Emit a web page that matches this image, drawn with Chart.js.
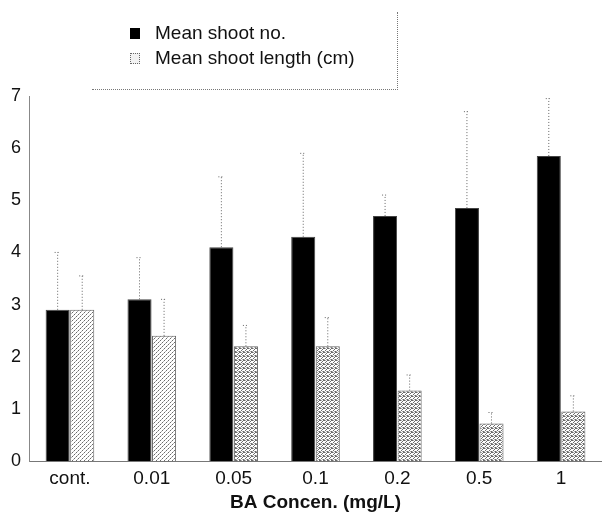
<!DOCTYPE html>
<html>
<head>
<meta charset="utf-8">
<script src="https://cdn.jsdelivr.net/npm/chart.js@4/dist/chart.umd.min.js"></script>
<style>
  body { margin: 0; background: #fff; }
  #wrap { position: relative; width: 602px; height: 516px; }
  #legend {
    position: absolute; left: 92px; top: 12px; width: 305px; height: 77px;
    border-right: 1px dotted #777; border-bottom: 1px dotted #777;
    font-family: "Liberation Sans", Arial, sans-serif; font-size: 19px; color: #111;
  }
  #legend .item { position: absolute; left: 38px; display: flex; align-items: center; line-height: 22px; }
  #legend .sw { width: 10px; height: 11px; margin-right: 15px; box-sizing: border-box; }
</style>
</head>
<body>
<div id="wrap">
  <canvas id="myChart"></canvas>
  <div id="legend"></div>
</div>
<script>
// data
const categories = ["cont.", "0.01", "0.05", "0.1", "0.2", "0.5", "1"];
const shootNo = [2.9, 3.1, 4.1, 4.3, 4.7, 4.85, 5.85];
const shootNoErr = [1.1, 0.8, 1.35, 1.6, 0.4, 1.85, 1.1];
const shootLength = [2.9, 2.4, 2.2, 2.2, 1.35, 0.72, 0.95];
const shootLengthErr = [0.65, 0.7, 0.4, 0.55, 0.3, 0.21, 0.3];
const yTicks = [0, 1, 2, 3, 4, 5, 6, 7];

const font = "'Liberation Sans', Arial, sans-serif";

// stippled fills for the second series
function makePattern(dark, light) {
  const c = document.createElement("canvas");
  c.width = 4; c.height = 4;
  const g = c.getContext("2d");
  g.fillStyle = "#fff";
  g.fillRect(0, 0, 4, 4);
  g.fillStyle = "#6a6a6a";
  dark.forEach(([x, y]) => g.fillRect(x, y, 1, 1));
  g.fillStyle = "#b0b0b0";
  light.forEach(([x, y]) => g.fillRect(x, y, 1, 1));
  return g.createPattern(c, "repeat");
}
const stipple = makePattern([[0, 0], [2, 1], [1, 2], [3, 3], [3, 0]], [[1, 0], [0, 3], [2, 3]]);
const stippleLight = makePattern([[0, 0], [2, 2]], [[1, 3], [3, 1]]);

// error bars drawn from the y scale
const errorBars = {
  id: "errorBars",
  afterDatasetsDraw(chart) {
    const ctx = chart.ctx;
    const y = chart.scales.y;
    ctx.save();
    ctx.strokeStyle = "#666";
    ctx.lineWidth = 1;
    ctx.setLineDash([1, 2]);
    chart.data.datasets.forEach((ds, i) => {
      const meta = chart.getDatasetMeta(i);
      meta.data.forEach((bar, j) => {
        const top = y.getPixelForValue(ds.data[j] + ds.errors[j]);
        const base = y.getPixelForValue(ds.data[j]);
        ctx.beginPath();
        ctx.moveTo(bar.x, base);
        ctx.lineTo(bar.x, top);
        ctx.moveTo(bar.x - 3, top);
        ctx.lineTo(bar.x + 3, top);
        ctx.stroke();
      });
    });
    ctx.restore();
  },
};

const chart = new Chart("myChart", {
  type: "bar",
  data: {
    labels: categories,
    datasets: [
      {
        label: "Mean shoot no.",
        data: shootNo,
        errors: shootNoErr,
        backgroundColor: "#000",
        borderColor: "#444",
        borderWidth: 1,
      },
      {
        label: "Mean shoot length (cm)",
        data: shootLength,
        errors: shootLengthErr,
        backgroundColor: (c) => (c.dataIndex < 2 ? stippleLight : stipple),
        borderColor: "#666",
        borderWidth: 1,
      },
    ],
  },
  options: {
    responsive: true,
    maintainAspectRatio: false,
    animation: false,
    layout: { padding: { top: 96, right: 0, left: 0, bottom: 0 } },
    plugins: {
      legend: { display: false },
      tooltip: { enabled: false },
    },
    datasets: {
      bar: { categoryPercentage: 0.6, barPercentage: 0.98 },
    },
    scales: {
      x: {
        grid: { display: false, drawTicks: false },
        border: { display: true, color: "#777", dash: [2, 2] },
        ticks: { color: "#111", font: { family: font, size: 19 }, padding: 6 },
        title: {
          display: true,
          text: "BA Concen. (mg/L)",
          color: "#111",
          font: { family: font, size: 19, weight: "bold" },
          padding: { top: 0, bottom: 2 },
        },
        afterFit(scale) { scale.height = 55; },
      },
      y: {
        min: 0,
        max: 7,
        grid: { display: false, drawTicks: false },
        border: { display: true, color: "#888", dash: [2, 3] },
        afterBuildTicks(scale) { scale.ticks = yTicks.map((v) => ({ value: v })); },
        ticks: { color: "#111", font: { family: font, size: 18 }, padding: 8 },
        afterFit(scale) { scale.width = 29; },
      },
    },
  },
  plugins: [errorBars],
});

// legend as page text, built from the datasets
const legend = document.getElementById("legend");
chart.data.datasets.forEach((ds, i) => {
  const item = document.createElement("div");
  item.className = "item";
  item.style.top = (10 + i * 25) + "px";
  const sw = document.createElement("span");
  sw.className = "sw";
  if (i === 0) {
    sw.style.background = "#000";
  } else {
    sw.style.border = "1px dotted #666";
    sw.style.background = "#f2f2f2";
  }
  item.appendChild(sw);
  item.appendChild(document.createTextNode(ds.label));
  legend.appendChild(item);
});
</script>
</body>
</html>
